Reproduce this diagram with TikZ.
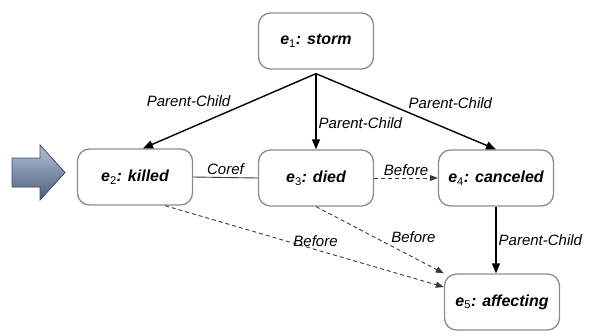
\documentclass[tikz,border=0pt]{standalone}
\usepackage{fontspec}
\setmainfont{Liberation Sans}
\usetikzlibrary{arrows.meta}
\definecolor{boxgray}{HTML}{8C8C8C}
\definecolor{dashgray}{HTML}{3A3A3A}
\definecolor{arrowtop}{HTML}{B6C2D6}
\definecolor{arrowbot}{HTML}{4B5D7E}
\definecolor{arrowedge}{HTML}{3E4E6C}
\newcommand{\eventtext}[2]{{\bfseries\itshape e}\textsubscript{#1}{\bfseries\itshape : #2}}

\begin{document}
\begin{tikzpicture}[x=1pt,y=-1pt,
  event/.style={draw=boxgray,line width=1.3pt,rounded corners=12pt,
    minimum width=115pt,minimum height=56pt,font=\fontsize{16}{19}\selectfont},
  parent/.style={line width=1.4pt,-{Triangle[length=10pt,width=8pt]}},
  before/.style={line width=0.9pt,draw=dashgray,dash pattern=on 4pt off 3pt,
    -{Triangle[length=8pt,width=6pt]}},
  coref/.style={line width=0.9pt,draw=dashgray},
  rel/.style={font=\fontsize{15}{18}\selectfont\itshape,inner sep=2pt}]
  \useasboundingbox (0,0) rectangle (591,333);

  \shade[top color=arrowtop,bottom color=arrowbot,draw=arrowedge,line width=0.8pt]
    (12,158) -- (40,158) -- (40,145) -- (65,172.5) -- (40,200) -- (40,187)
    -- (12,187) -- cycle;

  \node[event] (e1) at (316,41)  {\eventtext{1}{storm}};
  \node[event] (e2) at (135,177) {\eventtext{2}{killed}};
  \node[event] (e3) at (316,178) {\eventtext{3}{died}};
  \node[event] (e4) at (496,178) {\eventtext{4}{canceled}};
  \node[event] (e5) at (502,302) {\eventtext{5}{affecting}};

  \draw[parent] ([yshift=-4pt]e1.south)
    -- node[rel,above left,pos=0.48] {Parent-Child} ([xshift=8pt]e2.north);
  \draw[parent] ([yshift=-4pt]e1.south)
    -- node[rel,right,pos=0.65] {Parent-Child} (e3.north);
  \draw[parent] ([yshift=-4pt]e1.south)
    -- node[rel,above right,pos=0.5] {Parent-Child} (e4.north);
  \draw[parent] (e4.south)
    -- node[rel,right] {Parent-Child} (e4.south |- e5.north);

  \draw[coref] (e2.east) -- node[rel,above] {Coref} (e3.west);
  \draw[before] (e3.east) -- node[rel,above] {Before} (e4.west);
  \draw[before] ([xshift=30pt]e2.south)
    -- node[rel,above,pos=0.54] {Before} ([yshift=15pt]e5.west);
  \draw[before] (e3.south)
    -- node[rel,above right,pos=0.57] {Before} (e5.north west);
\end{tikzpicture}
\end{document}
